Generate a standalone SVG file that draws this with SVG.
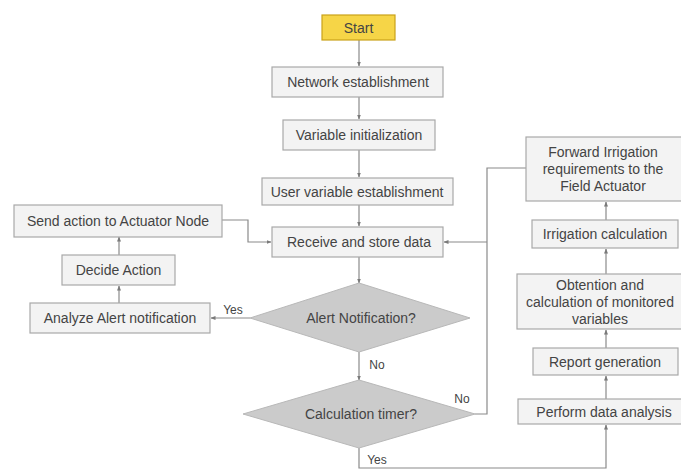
<svg xmlns="http://www.w3.org/2000/svg" width="681" height="470" viewBox="0 0 681 470">
<defs>
<marker id="ah" viewBox="0 0 10 10" refX="9" refY="5" markerWidth="5" markerHeight="5" orient="auto" markerUnits="userSpaceOnUse">
<path d="M0,1 L10,5 L0,9 z" fill="#7a7a7a"/>
</marker>
</defs>
<style>
.box{fill:#f3f3f3;stroke:#a9a9a9;stroke-width:1.2}
.dia{fill:#cbcbcb;stroke:#b8b8b8;stroke-width:1}
.start{fill:#f6d547;stroke:#caa21a;stroke-width:1.2}
text{font-family:"Liberation Sans",Arial,sans-serif;font-size:14px;fill:#444444;text-anchor:middle}
.lbl{font-size:12px}
.c{fill:none;stroke:#8a8a8a;stroke-width:1.2}
.a{marker-end:url(#ah)}
</style>
<rect width="681" height="470" fill="#ffffff"/>
<g id="connectors">
<path class="c a" d="M359,40 V66"/>
<path class="c a" d="M359,97 V119"/>
<path class="c a" d="M359,150 V177"/>
<path class="c a" d="M359,205 V226"/>
<path class="c a" d="M359,257 V283"/>
<path class="c a" d="M359,352 V380"/>
<path class="c a" d="M250,318 H211"/>
<path class="c a" d="M119,303 V286"/>
<path class="c a" d="M119,255 V237"/>
<path class="c a" d="M222,220 H248 V242 H271"/>
<path class="c" d="M475,414 H487 V168 H526"/>
<path class="c a" d="M487,242 H444"/>
<path class="c a" d="M359,448 V468 H606 V425"/>
<path class="c a" d="M606,399 V376"/>
<path class="c a" d="M606,348 V330"/>
<path class="c a" d="M606,274 V249"/>
<path class="c a" d="M606,220 V202"/>
</g>
<g id="start"><rect class="start" x="322" y="15" width="73" height="25"/><text x="358.5" y="32.5">Start</text></g>
<g id="network"><rect class="box" x="272" y="67" width="171" height="30"/><text x="358" y="87">Network establishment</text></g>
<g id="varinit"><rect class="box" x="283" y="120" width="152" height="30"/><text x="359" y="140">Variable initialization</text></g>
<g id="uservar"><rect class="box" x="262" y="178" width="191" height="27"/><text x="357" y="196.5">User variable establishment</text></g>
<g id="receive"><rect class="box" x="272" y="227" width="171" height="30"/><text x="359" y="247">Receive and store data</text></g>
<g id="alert"><polygon class="dia" points="359,283 470,318 359,352 250,318"/><text x="361" y="323">Alert Notification?</text></g>
<g id="timer"><polygon class="dia" points="359,380 475,414 359,448 243,414"/><text x="361" y="419">Calculation timer?</text></g>
<g id="send"><rect class="box" x="14" y="205" width="208" height="32"/><text x="118" y="226">Send action to Actuator Node</text></g>
<g id="decide"><rect class="box" x="62" y="255" width="113" height="30"/><text x="118.5" y="275">Decide Action</text></g>
<g id="analyze"><rect class="box" x="30" y="303" width="180" height="30"/><text x="120" y="323">Analyze Alert notification</text></g>
<g id="forward"><rect class="box" x="526" y="137" width="156" height="64"/><text x="603" y="157">Forward Irrigation</text><text x="603" y="174">requirements to the</text><text x="603" y="191">Field Actuator</text></g>
<g id="irrcalc"><rect class="box" x="532" y="220" width="146" height="28"/><text x="605" y="239">Irrigation calculation</text></g>
<g id="obtention"><rect class="box" x="517" y="274" width="165" height="55"/><text x="600" y="290">Obtention and</text><text x="600" y="307">calculation of monitored</text><text x="600" y="324">variables</text></g>
<g id="report"><rect class="box" x="533" y="348" width="145" height="27"/><text x="605" y="366.5">Report generation</text></g>
<g id="perform"><rect class="box" x="518" y="399" width="164" height="25"/><text x="604" y="416.5">Perform data analysis</text></g>
<g id="labels">
<text class="lbl" x="233" y="314">Yes</text>
<text class="lbl" x="377" y="369">No</text>
<text class="lbl" x="462" y="403">No</text>
<text class="lbl" x="377" y="464">Yes</text>
</g>
</svg>
